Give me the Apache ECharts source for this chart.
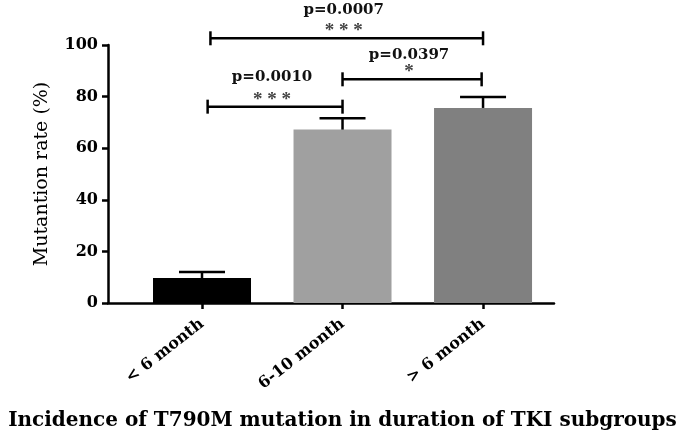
<!DOCTYPE html>
<html>
<head>
<meta charset="utf-8">
<script src="https://cdn.jsdelivr.net/npm/echarts@6/dist/echarts.min.js"></script>
<style>
  html, body { margin: 0; padding: 0; background: #fff; }
  #chart { width: 685px; height: 436px; }
</style>
</head>
<body>
<div id="chart"></div>
<script>
// groups and values
const categories = ['< 6 month', '6-10 month', '> 6 month'];
const rates = [9.7, 67.2, 75.6];
const errUpper = [12.0, 71.6, 79.8];
const barColors = ['#000000', '#a0a0a0', '#808080'];

// significance brackets (x in category index, y in %)
const pFrom = [0.04, 1.0, 0.06];
const pTo = [1.0, 1.99, 2.0];
const pLevel = [76.1, 86.7, 102.6];
const pLabels = ['p=0.0010', 'p=0.0397', 'p=0.0007'];
const pStars = ['* * *', '*', '* * *'];

const FONT = '"DejaVu Serif", "Liberation Serif", serif';
const labelLift = [30, 24, 28]; // px from bracket line to p label centre

const chart = echarts.init(document.getElementById('chart'), null, { renderer: 'canvas' });

const barData = rates.map((v, i) => ({ value: [i, v], itemStyle: { color: barColors[i] } }));
const errData = rates.map((v, i) => [i, v, errUpper[i]]);
const bracketData = pFrom.map((x, i) => [x, pTo[i], pLevel[i], i]);

const option = {
    animation: false,
    title: {
        text: 'Incidence of T790M mutation in duration of TKI subgroups',
        left: 'center',
        top: 406,
        textStyle: { fontFamily: FONT, fontWeight: 'bold', fontSize: 20, color: '#000' },
    },
    grid: { left: 108, right: 131, top: 45, bottom: 133, containLabel: false },
    xAxis: {
        type: 'value',
        min: -0.669,
        max: 2.505,
        splitLine: { show: false },
        axisLine: { lineStyle: { color: '#000', width: 2.5 } },
        axisTick: { customValues: [0, 1, 2], length: 6, lineStyle: { color: '#000', width: 2.5 } },
        axisLabel: {
            customValues: [0, 1, 2],
            formatter: (v) => categories[Math.round(v)],
            rotate: 38,
            margin: 19,
            fontFamily: FONT,
            fontWeight: 'bold',
            fontSize: 16,
            color: '#000',
        },
    },
    yAxis: {
        type: 'value',
        min: 0,
        max: 100,
        interval: 20,
        name: 'Mutantion rate (%)',
        nameLocation: 'middle',
        nameGap: 56,
        nameTextStyle: { fontFamily: FONT, fontSize: 19, color: '#000' },
        splitLine: { show: false },
        axisLine: { show: true, onZero: false, lineStyle: { color: '#000', width: 2.5 } },
        axisTick: { show: true, length: 6, lineStyle: { color: '#000', width: 2.5 } },
        axisLabel: { margin: 10, fontFamily: FONT, fontWeight: 'bold', fontSize: 16, color: '#000' },
    },
    series: [
        {
            type: 'bar',
            data: barData,
            barWidth: 98,
            z: 2,
        },
        {
            // upward error bars
            type: 'custom',
            data: errData,
            z: 3,
            renderItem: (params, api) => {
                const top = api.coord([api.value(0), api.value(2)]);
                const base = api.coord([api.value(0), api.value(1)]);
                const half = 23;
                const style = { stroke: '#000', lineWidth: 2.5 };
                return {
                    type: 'group',
                    children: [
                        { type: 'line', shape: { x1: top[0], y1: top[1], x2: base[0], y2: base[1] }, style },
                        { type: 'line', shape: { x1: top[0] - half, y1: top[1], x2: top[0] + half, y2: top[1] }, style },
                    ],
                };
            },
        },
        {
            // significance brackets
            type: 'custom',
            data: bracketData,
            clip: false,
            z: 4,
            renderItem: (params, api) => {
                const i = api.value(3);
                const a = api.coord([api.value(0), api.value(2)]);
                const b = api.coord([api.value(1), api.value(2)]);
                const cap = 7;
                const mid = (a[0] + b[0]) / 2 - 3;
                const style = { stroke: '#000', lineWidth: 2.5 };
                return {
                    type: 'group',
                    children: [
                        { type: 'line', shape: { x1: a[0], y1: a[1], x2: b[0], y2: b[1] }, style },
                        { type: 'line', shape: { x1: a[0], y1: a[1] - cap, x2: a[0], y2: a[1] + cap }, style },
                        { type: 'line', shape: { x1: b[0], y1: b[1] - cap, x2: b[0], y2: b[1] + cap }, style },
                        {
                            type: 'text',
                            style: {
                                x: mid, y: a[1] - 7, text: pStars[i], align: 'center', verticalAlign: 'middle',
                                font: 'bold 19px "Liberation Serif", serif', fill: '#444',
                            },
                        },
                        {
                            type: 'text',
                            style: {
                                x: mid, y: a[1] - labelLift[i], text: pLabels[i], align: 'center', verticalAlign: 'middle',
                                font: 'bold 15px ' + FONT, fill: '#111',
                            },
                        },
                    ],
                };
            },
        },
    ],
};

chart.setOption(option);
</script>
</body>
</html>
